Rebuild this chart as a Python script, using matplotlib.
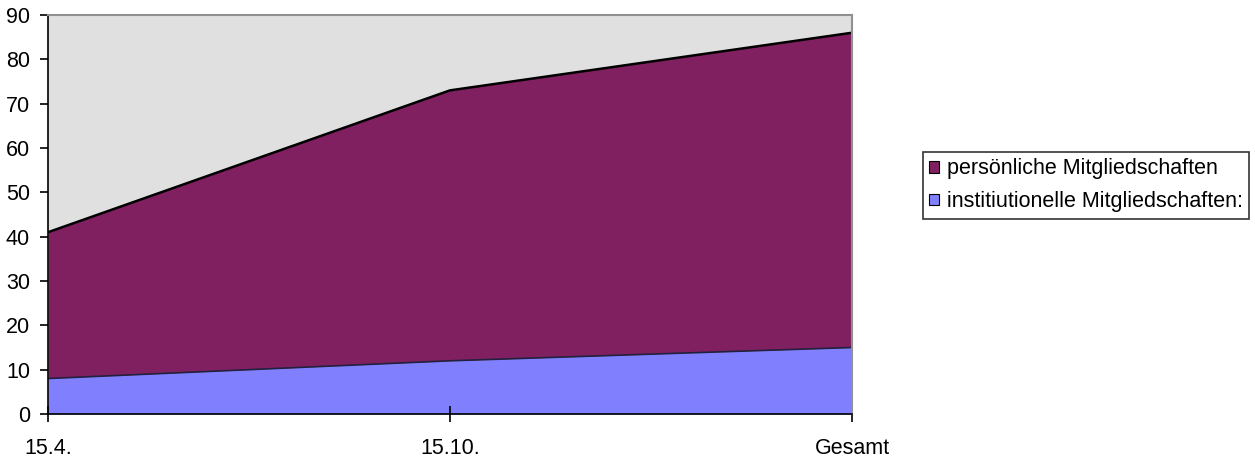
import matplotlib.pyplot as plt
from matplotlib.patches import Patch

plt.rcParams['font.family'] = ['Liberation Sans', 'DejaVu Sans']

kategorien = ['15.4.', '15.10.', 'Gesamt']
institutionell = [8, 12, 15]
persoenlich = [33, 61, 71]

farbe_inst = '#8080ff'
farbe_pers = '#802060'

fig = plt.figure(figsize=(12.55, 4.59), dpi=100)
ax = fig.add_axes([48 / 1255, 1 - 414 / 459, 804 / 1255, 399 / 459])
ax.set_facecolor('#e0e0e0')

x = list(range(len(kategorien)))
summe = [a + b for a, b in zip(institutionell, persoenlich)]

ax.fill_between(x, 0, institutionell, color=farbe_inst, lw=0)
ax.fill_between(x, institutionell, summe, color=farbe_pers, lw=0)
ax.plot(x, institutionell, color='#202040', lw=1.2)
ax.plot(x, summe, color='black', lw=1.8)

ax.set_xlim(0, len(kategorien) - 1)
ax.set_ylim(0, 90)
ax.set_yticks(range(0, 91, 10))
ax.set_xticks(x)
ax.set_xticklabels(kategorien)

for s in ['top', 'right']:
    ax.spines[s].set_color('#909090')
    ax.spines[s].set_linewidth(1.5)
for s in ['left', 'bottom']:
    ax.spines[s].set_color('black')
    ax.spines[s].set_linewidth(1.2)

ax.tick_params(axis='y', direction='out', length=6, width=1.2, labelsize=15.5, pad=7)
ax.tick_params(axis='x', direction='inout', length=12, width=1.2, labelsize=15.5, pad=11)

handles = [
    Patch(facecolor=farbe_pers, edgecolor='black', lw=0.8, label='persönliche Mitgliedschaften'),
    Patch(facecolor=farbe_inst, edgecolor='black', lw=0.8, label='institiutionelle Mitgliedschaften:'),
]
leg = fig.legend(handles=handles, loc='upper left', bbox_to_anchor=(923 / 1255, 1 - 152 / 459),
                 frameon=True, fancybox=False, fontsize=15.5, handlelength=0.45, handleheight=0.45,
                 handletextpad=0.35, borderpad=0.3, labelspacing=0.55, borderaxespad=0)
leg.get_frame().set_edgecolor('black')
leg.get_frame().set_linewidth(1.2)

fig.savefig('out.png', dpi=100)
